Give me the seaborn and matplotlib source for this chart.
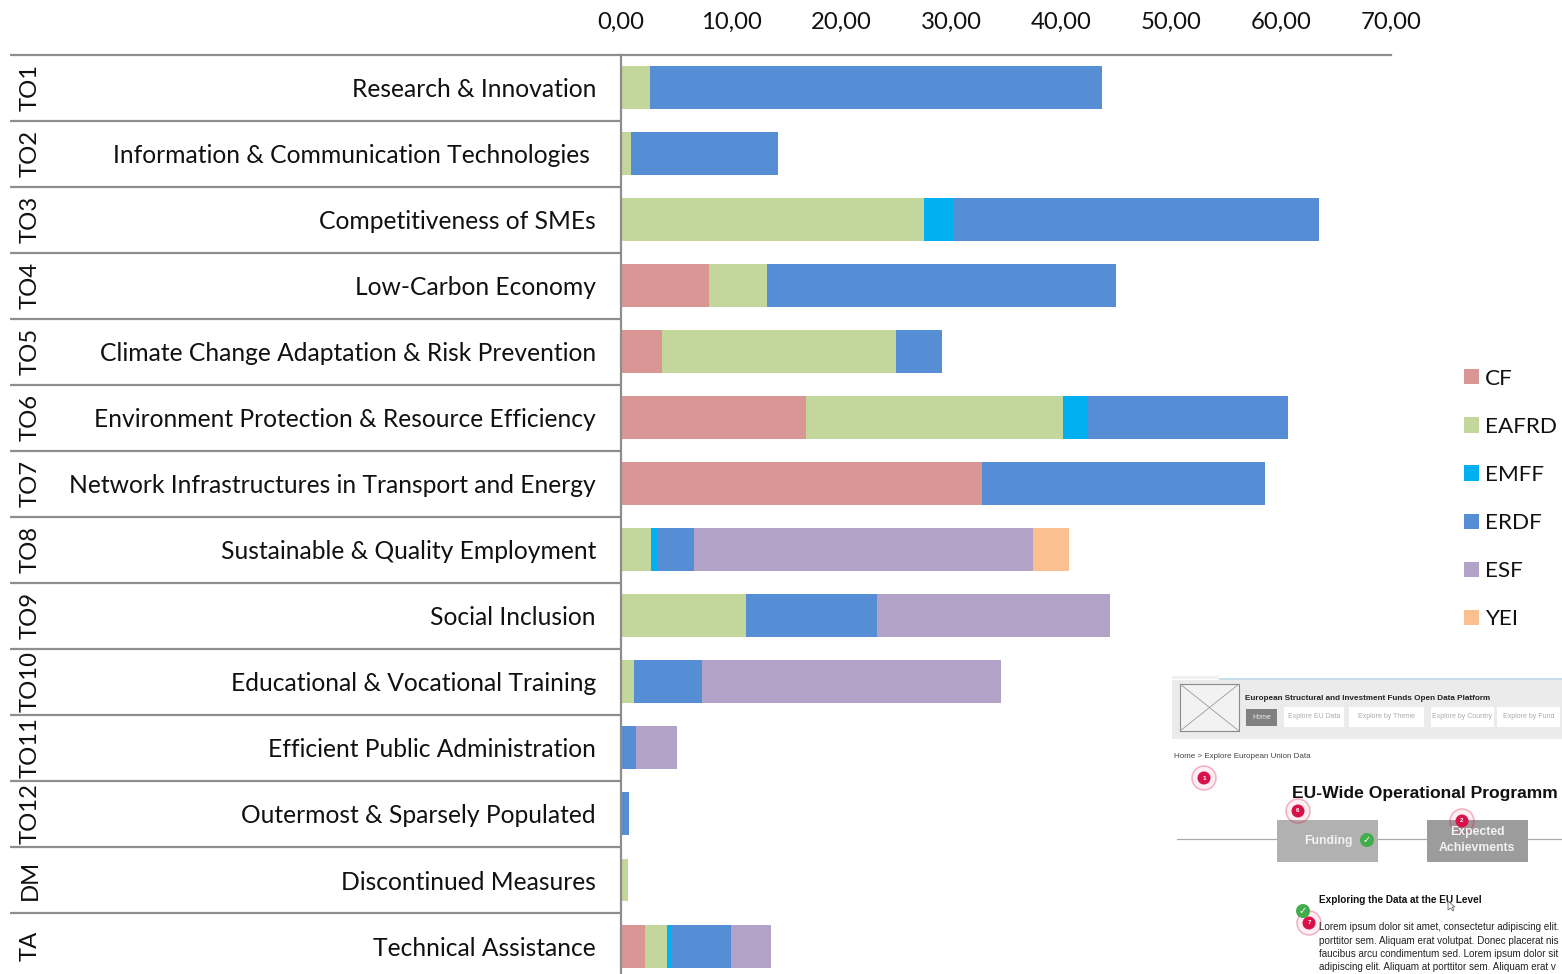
import matplotlib
matplotlib.use("Agg")
import matplotlib.pyplot as plt
from matplotlib.patches import Rectangle, Circle, Polygon
import numpy as np
import pandas as pd
import seaborn as sns

# ---------- data ----------
codes = ["TO1", "TO2", "TO3", "TO4", "TO5", "TO6", "TO7", "TO8", "TO9", "TO10", "TO11", "TO12", "DM", "TA"]
themes = ["Research & Innovation", "Information & Communication Technologies\u00a0",
          "Competitiveness of SMEs", "Low-Carbon Economy",
          "Climate Change Adaptation & Risk Prevention", "Environment Protection & Resource Efficiency",
          "Network Infrastructures in Transport and Energy", "Sustainable & Quality Employment",
          "Social Inclusion", "Educational & Vocational Training", "Efficient Public Administration",
          "Outermost & Sparsely Populated", "Discontinued Measures", "Technical Assistance"]
cf    = [0, 0, 0, 8.0, 3.7, 16.8, 32.8, 0, 0, 0, 0, 0, 0, 2.15]
eafrd = [2.6, 0.95, 27.5, 5.25, 21.3, 23.4, 0, 2.75, 11.4, 1.2, 0, 0, 0.6, 2.05]
emff  = [0, 0, 2.65, 0, 0, 2.2, 0, 0.55, 0, 0, 0, 0, 0, 0.3]
erdf  = [41.1, 13.3, 33.3, 31.75, 4.2, 18.2, 25.75, 3.35, 11.9, 6.2, 1.4, 0.7, 0, 5.5]
esf   = [0, 0, 0, 0, 0, 0, 0, 30.8, 21.15, 27.1, 3.7, 0, 0, 3.65]
yei   = [0, 0, 0, 0, 0, 0, 0, 3.3, 0, 0, 0, 0, 0, 0]
fund_names = ["CF", "EAFRD", "EMFF", "ERDF", "ESF", "YEI"]
fund_values = [cf, eafrd, emff, erdf, esf, yei]
fund_colors = ["#D99694", "#C3D69B", "#00B0F0", "#558ED5", "#B3A2C7", "#FAC090"]
x_ticks = [0, 10, 20, 30, 40, 50, 60, 70]
x_tick_labels = ["0,00", "10,00", "20,00", "30,00", "40,00", "50,00", "60,00", "70,00"]

# ---------- figure ----------
W, H = 1562, 974
sns.set_theme(style="white")
plt.rcParams["font.family"] = ["Lato", "DejaVu Sans"]
FS = 17.2
LABEL_FS = 17.7
GRAY = "#8E8E8E"
px = 72 / 100  # points per pixel
TOP = 54.5

fig = plt.figure(figsize=(W / 100, H / 100), dpi=100, facecolor="white")
ax = fig.add_axes([621 / W, 0, 770 / W, (974 - TOP) / H])

left = np.zeros(len(themes))
for name, vals, col in zip(fund_names, fund_values, fund_colors):
    df = pd.DataFrame({"theme": themes, "value": vals})
    sns.barplot(data=df, y="theme", x="value", order=themes, color=col, saturation=1,
                errorbar=None, width=0.65, left=left, label=name, legend=False,
                linewidth=0, ax=ax)
    left = left + np.array(vals)

ax.set_xlim(0, 70)
row_px = 66.04
ax.set_ylim(-0.5 + (974 - TOP) / row_px, -0.5)
ax.set_xlabel("")
ax.set_ylabel("")
ax.xaxis.tick_top()
ax.set_xticks(x_ticks)
ax.set_xticklabels(x_tick_labels, fontsize=FS, color="#111111")
ax.tick_params(axis="x", length=0, pad=21.5 * px)
ax.tick_params(axis="y", length=0, pad=25 * px, labelsize=LABEL_FS, labelcolor="#111111")
for t in ax.get_yticklabels():
    t.set_verticalalignment("center_baseline")
for s in ["right", "bottom"]:
    ax.spines[s].set_visible(False)
ax.spines["left"].set_color(GRAY)
ax.spines["left"].set_linewidth(1.6)
ax.spines["top"].set_color(GRAY)
ax.spines["top"].set_linewidth(1.6)

# row separators and the theme codes left of the labels
far_left = (10 - 621) / 770
ax.hlines(np.arange(len(themes)) - 0.5, far_left, 0, color=GRAY, lw=1.6,
          transform=ax.get_yaxis_transform(), clip_on=False)
for i, code in enumerate(codes):
    ax.annotate(code, xy=(0, i), xycoords=("axes fraction", "data"),
                xytext=(-(621 - 30) * px, 0), textcoords="offset points",
                rotation=90, ha="center", va="center", fontsize=FS, color="#111111",
                annotation_clip=False)

# legend
handles, labels = ax.get_legend_handles_labels()
LFS = 16.2
fig.legend(handles, labels, loc="center left", bbox_to_anchor=(1464 / W, 1 - 499 / H),
           frameon=False, fontsize=LFS, borderpad=0, borderaxespad=0,
           handlelength=15 * px / LFS, handleheight=15 * px / LFS,
           handletextpad=6 * px / LFS, labelspacing=(48.2 - 20.1) * px / LFS,
           labelcolor="#111111")

# ---------- pasted web-page screenshot, bottom right ----------
sx0, sy0 = 1162, 670
shot = fig.add_axes([sx0 / W, 0, (W - sx0) / W, (H - sy0) / H], facecolor="none")
shot.set_xlim(sx0, W)
shot.set_ylim(H, sy0)
shot.axis("off")
SF = "Liberation Sans"

def rect(x0, y0, x1, y1, fc, ec="none", lw=0, z=1):
    shot.add_patch(Rectangle((x0, y0), x1 - x0, y1 - y0, fc=fc, ec=ec, lw=lw, zorder=z))

def txt(x, y, s, size, color="#222222", weight="normal", ha="left", z=5, **kw):
    shot.text(x, y, s, fontsize=size, color=color, fontweight=weight, ha=ha, va="center",
              family=SF, zorder=z, **kw)

def badge(x, y, n):
    shot.add_patch(Circle((x, y), 12, fc=(0.85, 0.1, 0.3, 0.07), ec=(0.85, 0.1, 0.3, 0.3),
                          lw=1.2, zorder=4))
    shot.add_patch(Circle((x, y), 6.5, fc="#D9114A", ec="none", zorder=7))
    txt(x, y, n, 4.5, color="white", weight="bold", ha="center", z=8)

def check(x, y, r):
    shot.add_patch(Circle((x, y), r, fc="#43AC4D", ec="none", zorder=6))
    shot.text(x, y, "\u2713", fontsize=7, color="white", ha="center", va="center",
              family="DejaVu Sans", fontweight="bold", zorder=8)

rect(1172, 676, 1219, 679, "#F0F0F0")
rect(1219, 678, W, 679.5, "#C6DEE9")
rect(1172, 680, W, 739, "#EBEBEB")
rect(1180, 684, 1239, 731, "#F2F2F2", ec="#8A8A8A", lw=0.8, z=2)
shot.plot([1180, 1239], [684, 731], color="#9A9A9A", lw=0.6, zorder=3)
shot.plot([1180, 1239], [731, 684], color="#9A9A9A", lw=0.6, zorder=3)
txt(1245, 699, "European Structural and Investment Funds Open Data Platform", 5.85, weight="bold")
rect(1246, 709, 1277, 726, "#808080")
txt(1261.5, 717.5, "Home", 5, color="#EEEEEE", ha="center")
for x0, x1, label in [(1284, 1344, "Explore EU Data"), (1349, 1424, "Explore by Theme"),
                      (1431, 1494, "Explore by Country"), (1497, 1560, "Explore by Fund")]:
    rect(x0, 707, x1, 727, "white")
    txt((x0 + x1) / 2, 717, label, 5, color="#ABABAB", ha="center")
txt(1174, 757, "Home > Explore European Union Data", 5.75, color="#444444")
badge(1204, 778, "1")
txt(1292, 793.5, "EU-Wide Operational Programm", 12.6, color="#111111", weight="bold")
shot.plot([1177, W], [839, 839], color="#ABABAB", lw=0.9, zorder=1)
rect(1277, 820, 1378, 862, "#B1B1B1", z=2)
txt(1328, 841, "Funding", 8.8, color="#F2F2F2", weight="bold", ha="center")
check(1367, 840, 7)
rect(1427, 820, 1528, 862, "#9C9C9C", z=2)
txt(1477, 832, "Expected", 8.8, color="#F2F2F2", weight="bold", ha="center")
txt(1477, 848, "Achievments", 8.8, color="#F2F2F2", weight="bold", ha="center")
badge(1298, 811, "6")
badge(1462, 821, "2")
txt(1318.7, 900, "Exploring the Data at the EU Level", 7.2, color="#111111", weight="bold")
check(1303, 911, 7)
badge(1309, 923, "7")
lorem_lines = ["Lorem ipsum dolor sit amet, consectetur adipiscing elit.",
               "porttitor sem. Aliquam erat volutpat. Donec placerat nis",
               "faucibus arcu condimentum sed. Lorem ipsum dolor sit",
               "adipiscing elit. Aliquam at porttitor sem. Aliquam erat v"]
for y, line in zip([927, 941, 954, 967], lorem_lines):
    txt(1318.7, y, line, 7.1, color="#222222", z=9)
shot.add_patch(Polygon([(1448, 901), (1448, 910), (1450.5, 908), (1453, 911), (1454, 910),
                        (1452, 907), (1455, 907)], fc="white", ec="#555555", lw=0.5, zorder=9))

fig.savefig("out.png", dpi=100, facecolor="white")
